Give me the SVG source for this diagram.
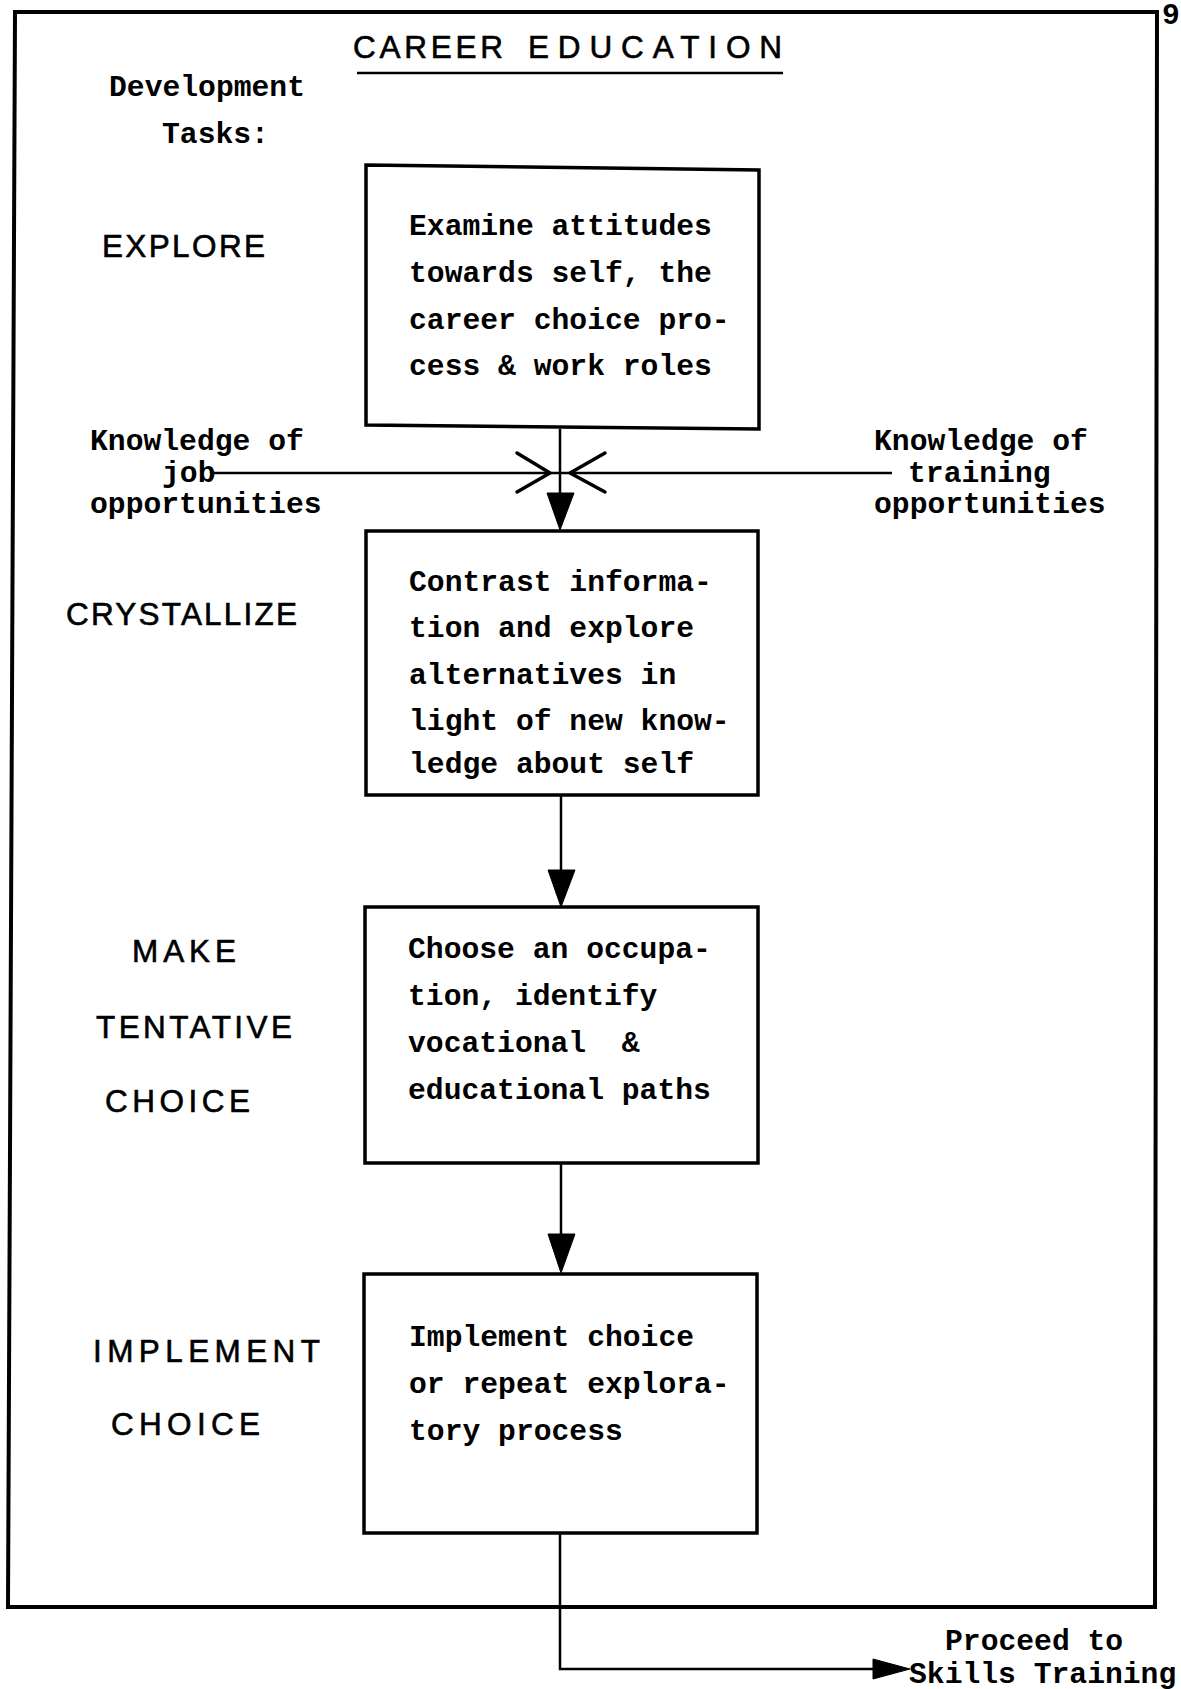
<svg xmlns="http://www.w3.org/2000/svg" width="1181" height="1689" viewBox="0 0 1181 1689">
<style>
.tw{font-family:"Liberation Mono","Courier New",monospace;font-size:29.7px;font-weight:bold;fill:#000;white-space:pre}
.lb{font-family:"Liberation Sans",Arial,sans-serif;font-size:31.5px;fill:#000;stroke:#000;stroke-width:0.6}
.box{fill:none;stroke:#000;stroke-width:3.5}
.ln{fill:none;stroke:#000;stroke-width:2.5}
.oa{fill:none;stroke:#000;stroke-width:3.5;stroke-linecap:round;stroke-linejoin:round}
.ah{fill:#000;stroke:#000;stroke-width:1}
</style>
<rect width="1181" height="1689" fill="#fff"/>
<g id="frame">
<polygon points="15,12 1157,12 1155,1607 8,1607" fill="none" stroke="#000" stroke-width="4"/>
</g>
<text class="tw" x="1162" y="24">9</text>
<g id="title">
<text class="lb" x="353" y="58" textLength="150" lengthAdjust="spacing">CAREER</text>
<text class="lb" x="528" y="58" textLength="254" lengthAdjust="spacing">EDUCATION</text>
<line x1="357" y1="73" x2="783" y2="73" stroke="#000" stroke-width="2.5"/>
</g>
<g id="dev-tasks">
<text class="tw" x="109" y="96">Development</text>
<text class="tw" x="162" y="143">Tasks:</text>
</g>
<g id="labels">
<text class="lb" x="102" y="257" textLength="163" lengthAdjust="spacing">EXPLORE</text>
<text class="lb" x="66" y="625" textLength="231" lengthAdjust="spacing">CRYSTALLIZE</text>
<text class="lb" x="132" y="962" textLength="104" lengthAdjust="spacing">MAKE</text>
<text class="lb" x="96" y="1038" textLength="196" lengthAdjust="spacing">TENTATIVE</text>
<text class="lb" x="105" y="1112" textLength="145" lengthAdjust="spacing">CHOICE</text>
<text class="lb" x="93" y="1362" textLength="227" lengthAdjust="spacing">IMPLEMENT</text>
<text class="lb" x="111" y="1435" textLength="149" lengthAdjust="spacing">CHOICE</text>
</g>
<g id="box1">
<polygon class="box" points="366,165 759,170 759,429 366,425"/>
<text class="tw" x="409" y="235">Examine attitudes</text>
<text class="tw" x="409" y="282">towards self, the</text>
<text class="tw" x="409" y="329">career choice pro-</text>
<text class="tw" x="409" y="375">cess &amp; work roles</text>
</g>
<g id="box2">
<rect class="box" x="366" y="531" width="392" height="264"/>
<text class="tw" x="409" y="591">Contrast informa-</text>
<text class="tw" x="409" y="637">tion and explore</text>
<text class="tw" x="409" y="684">alternatives in</text>
<text class="tw" x="409" y="730">light of new know-</text>
<text class="tw" x="409" y="773">ledge about self</text>
</g>
<g id="box3">
<rect class="box" x="365" y="907" width="393" height="256"/>
<text class="tw" x="408" y="958">Choose an occupa-</text>
<text class="tw" x="408" y="1005">tion, identify</text>
<text class="tw" x="408" y="1052">vocational  &amp;</text>
<text class="tw" x="408" y="1099">educational paths</text>
</g>
<g id="box4">
<rect class="box" x="364" y="1274" width="393" height="259"/>
<text class="tw" x="409" y="1346">Implement choice</text>
<text class="tw" x="409" y="1393">or repeat explora-</text>
<text class="tw" x="409" y="1440">tory process</text>
</g>
<g id="job-knowledge">
<text class="tw" x="90" y="450">Knowledge of</text>
<text class="tw" x="162" y="482">job</text>
<text class="tw" x="90" y="513">opportunities</text>
</g>
<g id="training-knowledge">
<text class="tw" x="874" y="450">Knowledge of</text>
<text class="tw" x="908" y="482">training</text>
<text class="tw" x="874" y="513">opportunities</text>
</g>
<g id="proceed">
<text class="tw" x="945" y="1650">Proceed to</text>
<text class="tw" x="909" y="1683">Skills Training</text>
</g>
<g id="connectors">
<line class="ln" x1="214" y1="473" x2="560" y2="473"/>
<polyline class="oa" points="517,453 550,473 517,492"/>
<line class="ln" x1="892" y1="473" x2="560" y2="473"/>
<polyline class="oa" points="605,453 570,473 605,492"/>
<line class="ln" x1="560" y1="429" x2="560" y2="500" stroke-width="3"/>
<polygon class="ah" points="547,493 574,493 560,530"/>
<line class="ln" x1="561" y1="795" x2="561" y2="875" stroke-width="3"/>
<polygon class="ah" points="548,870 575,870 561,907"/>
<line class="ln" x1="561" y1="1163" x2="561" y2="1240" stroke-width="3"/>
<polygon class="ah" points="548,1234 575,1234 561,1273"/>
<polyline class="ln" points="560,1533 560,1669 880,1669" stroke-width="3.5"/>
<polygon class="ah" points="873,1659 873,1679 910,1669"/>
</g>
</svg>
